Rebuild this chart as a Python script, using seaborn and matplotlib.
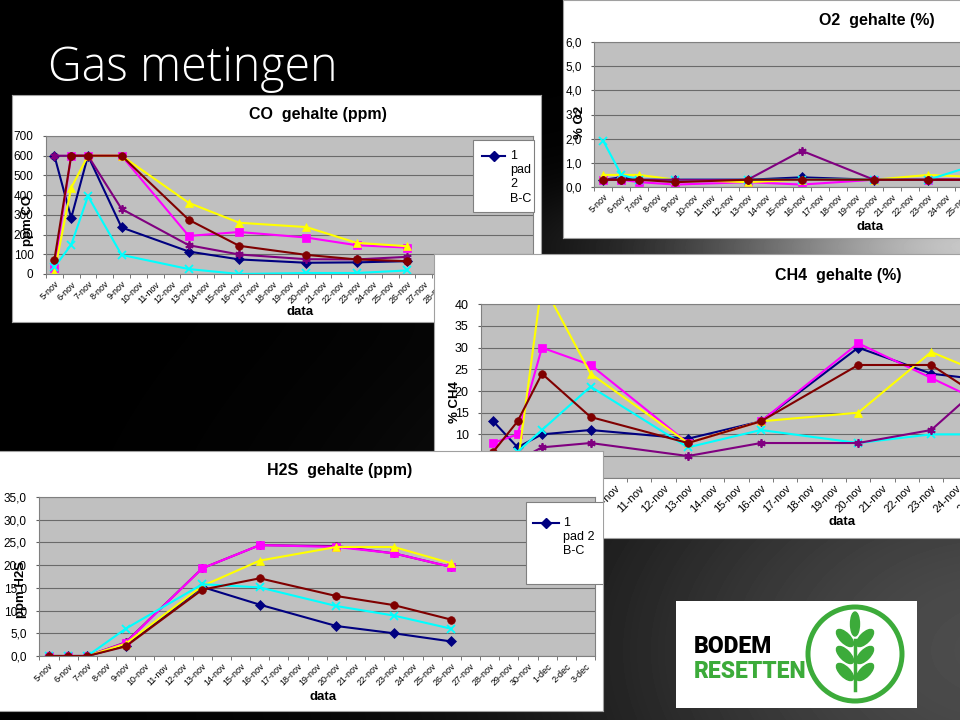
import numpy as np
import pandas as pd
import matplotlib
matplotlib.use("Agg")
import matplotlib.pyplot as plt
import seaborn as sns
from matplotlib.patches import Rectangle, Ellipse, Circle

plt.rcParams["font.family"] = ["Liberation Sans", "DejaVu Sans"]

W, H = 960, 720

# ================================
# DATA
# ================================
dagen = [f"{d}-nov" for d in range(5, 31)] + ["1-dec", "2-dec", "3-dec"]
meetdagen = ["5-nov", "6-nov", "7-nov", "9-nov", "13-nov", "16-nov", "20-nov", "23-nov", "26-nov"]

series = ["1 pad 2 B-C", "2 pad 2 B-C", "3 pad 2 B-C", "4 pad 2 B-C", "5 pad 2 B-C", "6 pad 2 B-C"]
kleuren = ["#000080", "#FF00FF", "#FFFF00", "#00FFFF", "#800080", "#800000"]
symbolen = ["D", "s", "^", "x", (6, 2, 0), "o"]

# CO (ppm)
co_1 = [600, 284, 600, 236, 114, 74, 57, 59, 65]
co_2 = [30, 600, 600, 600, 193, 213, 185, 146, 134]
co_3 = [10, 437, 600, 600, 361, 260, 238, 158, 141]
co_4 = [35, 148, 395, 97, 25, 0, 5, 5, 18]
co_5 = [600, 600, 600, 330, 146, 99, 75, 74, 87]
co_6 = [72, 600, 600, 600, 275, 143, 97, 74, 65]

# O2 (%)
o2_1 = [0.3, 0.4, 0.3, 0.3, 0.3, 0.4, 0.3, 0.3, 0.3]
o2_2 = [0.3, 0.3, 0.2, 0.1, 0.2, 0.1, 0.3, 0.3, 0.3]
o2_3 = [0.5, 0.5, 0.5, 0.3, 0.2, 0.3, 0.3, 0.5, 0.4]
o2_4 = [1.9, 0.5, 0.3, 0.3, 0.3, 0.3, 0.3, 0.3, 1.0]
o2_5 = [0.3, 0.3, 0.3, 0.3, 0.3, 1.5, 0.3, 0.3, 0.3]
o2_6 = [0.3, 0.3, 0.3, 0.2, 0.3, 0.3, 0.3, 0.3, 0.3]

# CH4 (%)
ch4_1 = [13, 7, 10, 11, 9, 13, 30, 24, 22]
ch4_2 = [8, 10, 30, 26, 8, 13, 31, 23, 15]
ch4_3 = [5, 3, 45, 24, 8, 13, 15, 29, 22]
ch4_4 = [3, 6, 11, 21, 7, 11, 8, 10, 10]
ch4_5 = [3, 4, 7, 8, 5, 8, 8, 11, 26]
ch4_6 = [6, 13, 24, 14, 8, 13, 26, 26, 15]

# H2S (ppm)
h2s_1 = [0, 0, 0, 2.3, 15.2, 11.3, 6.6, 5.0, 3.2]
h2s_2 = [0, 0, 0, 2.9, 19.3, 24.4, 24.0, 22.6, 19.6]
h2s_3 = [0, 0, 0, 2.7, 15.4, 21.0, 24.0, 24.0, 20.4]
h2s_4 = [0, 0, 0, 6.0, 15.8, 15.1, 11.0, 8.9, 6.0]
h2s_5 = [0, 0, 0, 3.0, 19.3, 24.4, 24.2, 22.6, 19.6]
h2s_6 = [0, 0, 0, 2.1, 14.6, 17.1, 13.2, 11.2, 8.0]


# ================================
# HELPERS
# ================================
fig = plt.figure(figsize=(9.6, 7.2), dpi=100)


def px_box(x0, y0, x1, y1):
    return [x0 / W, 1 - y1 / H, (x1 - x0) / W, (y1 - y0) / H]


def pixel_as(box, wit=True):
    x0, y0, x1, y1 = box
    ax = fig.add_axes(px_box(*box))
    ax.set_xlim(x0, x1)
    ax.set_ylim(y1, y0)
    ax.set_xticks([])
    ax.set_yticks([])
    if wit:
        ax.set_facecolor("white")
        for s in ax.spines.values():
            s.set_color("#a0a0a0")
            s.set_linewidth(0.8)
    else:
        ax.patch.set_visible(False)
        for s in ax.spines.values():
            s.set_visible(False)
    return ax


def legenda(ov, box, regels, lijn, tekst_x, y0, stap):
    bx0, by0, bx1, by1 = box
    ov.add_patch(Rectangle((bx0, by0), bx1 - bx0, by1 - by0, facecolor="white",
                           edgecolor="#808080", lw=0.8))
    ov.plot(lijn, [y0, y0], color=kleuren[0], lw=1.5)
    ov.plot([(lijn[0] + lijn[1]) / 2], [y0], marker="D", ms=5, color=kleuren[0])
    for k, r in enumerate(regels):
        ov.text(tekst_x, y0 + k * stap, r, fontsize=9, va="center", ha="left", clip_on=True)


def grafiek(paneel, vlak, waarden, ymax, ystap, komma, ytick_fs, xtick_fs,
            titel, titel_xy, xlabel_xy, ylabel, ylabel_xy, volgorde=range(6)):
    pixel_as(paneel, True)
    ax = fig.add_axes(px_box(*vlak))
    xpos = [dagen.index(d) for d in meetdagen]
    for i in volgorde:
        dunne_lijn = symbolen[i] in ("x", (6, 2, 0))
        sns.lineplot(x=xpos, y=waarden[i], ax=ax, color=kleuren[i], marker=symbolen[i],
                     markersize=6 if dunne_lijn else 5.5, markeredgecolor=kleuren[i],
                     markeredgewidth=1.3 if dunne_lijn else 0.5, linewidth=1.5,
                     errorbar=None, legend=False)
    ax.set_facecolor("#c0c0c0")
    ax.set_xlim(-0.5, len(dagen) - 0.5)
    ax.set_ylim(0, ymax)
    ax.set_xlabel("")
    ax.set_ylabel("")
    yt = np.arange(0, ymax + ystap / 2, ystap)
    ax.set_yticks(yt)
    if komma:
        ax.set_yticklabels([f"{v:.1f}".replace(".", ",") for v in yt])
    else:
        ax.set_yticklabels([f"{v:g}" for v in yt])
    ax.set_xticks(range(len(dagen)))
    ax.set_xticklabels(dagen, rotation=45, ha="right", rotation_mode="anchor", fontsize=xtick_fs)
    ax.set_xticks(np.arange(-0.5, len(dagen)), minor=True)
    ax.tick_params(axis="x", which="major", length=0, pad=4)
    ax.tick_params(axis="x", which="minor", length=3, color="#606060")
    ax.tick_params(axis="y", length=2.5, pad=6.5, labelsize=ytick_fs, color="#606060")
    ax.grid(axis="y", color="#6a6a6a", lw=0.8)
    ax.set_axisbelow(True)
    for s in ax.spines.values():
        s.set_color("#808080")
        s.set_linewidth(0.8)

    ov = pixel_as(paneel, False)
    ov.text(*titel_xy, titel, fontsize=11.5, fontweight="bold", ha="center", va="center")
    ov.text(*xlabel_xy, "data", fontsize=9.5, fontweight="bold", ha="center", va="center")
    ov.text(*ylabel_xy, ylabel, fontsize=9.5, fontweight="bold", ha="center", va="center",
            rotation=90)
    return ov


# ================================
# BACKGROUND + TITLE
# ================================
bg = fig.add_axes([0, 0, 1, 1])
yy, xx = np.mgrid[0:H, 0:W]
glans = 0.75 * np.exp(-(((xx - 1010) / 300) ** 2 + ((yy - 245) / 60) ** 2))
gloed = 0.30 * np.exp(-(((xx - 1000) / 450) ** 2 + ((yy - 650) / 300) ** 2))
bg.imshow(np.clip(glans + gloed, 0, 1), cmap="gray", vmin=0, vmax=1,
          extent=(0, W, H, 0), aspect="auto", interpolation="bilinear")
bg.set_xlim(0, W)
bg.set_ylim(H, 0)
bg.axis("off")
bg.text(48, 81, "Gas metingen", color="white", fontsize=33.5, fontweight="light",
        family=["Open Sans", "DejaVu Sans"], va="baseline", ha="left")

# ================================
# CHARTS
# ================================
ov_co = grafiek((12, 95, 541, 322), (46, 136, 533, 274),
                [co_1, co_2, co_3, co_4, co_5, co_6], 700, 100, False, 8.5, 6.5,
                "CO  gehalte (ppm)", (318, 115), (300, 312), "ppm CO", (28, 220))
legenda(ov_co, (473, 140, 534, 212), series[0].split(" "), (482, 505), 510, 156, 14.2)

grafiek((563, 0, 1250, 238), (594.3, 42, 1117.5, 187),
        [o2_1, o2_2, o2_3, o2_4, o2_5, o2_6], 6, 1, True, 8.5, 6.5,
        "O2  gehalte (%)", (877, 20), (870, 227), "% O2", (580, 122))

grafiek((434, 254, 1250, 538), (481.1, 304.3, 1186.7, 477.7),
        [ch4_1, ch4_2, ch4_3, ch4_4, ch4_5, ch4_6], 40, 5, False, 9, 8,
        "CH4  gehalte (%)", (838, 275), (842, 522), "% CH4", (455, 402))

ov_h2s = grafiek((-5, 451, 603, 711), (39.4, 497, 595, 656),
                 [h2s_1, h2s_2, h2s_3, h2s_4, h2s_5, h2s_6], 35, 5, True, 8.5, 6.5,
                 "H2S  gehalte (ppm)", (340, 471), (323, 697), "ppm H2S", (21, 590),
                 volgorde=[0, 4, 1, 2, 3, 5])
naam = series[0].split(" ")
legenda(ov_h2s, (526, 502, 612, 584), [naam[0], " ".join(naam[1:3]), naam[3]],
        (533, 559), 563, 523, 14.2)

# ================================
# LOGO
# ================================
groen = "#3cab3a"
logo = pixel_as((676, 601, 917, 708), True)
for s in logo.spines.values():
    s.set_visible(False)
logo.text(694, 653, "BODEM", fontsize=16.5, fontweight="black", family=["Roboto", "DejaVu Sans"],
          va="baseline", ha="left", color="black")
logo.text(694, 678, "RESETTEN", fontsize=16.5, fontweight="black", family=["Roboto", "DejaVu Sans"],
          va="baseline", ha="left", color=groen)
logo.add_patch(Circle((855, 654), 47, fill=False, edgecolor=groen, lw=3.6))
logo.plot([855, 855], [640, 690], color=groen, lw=2.5)
logo.add_patch(Ellipse((855, 624), 9, 24, angle=0, color=groen))
for yc in (638, 655, 672):
    logo.add_patch(Ellipse((845, yc), 10, 22, angle=-45, color=groen))
    logo.add_patch(Ellipse((865, yc), 10, 22, angle=45, color=groen))

fig.savefig("out.png", dpi=100)
